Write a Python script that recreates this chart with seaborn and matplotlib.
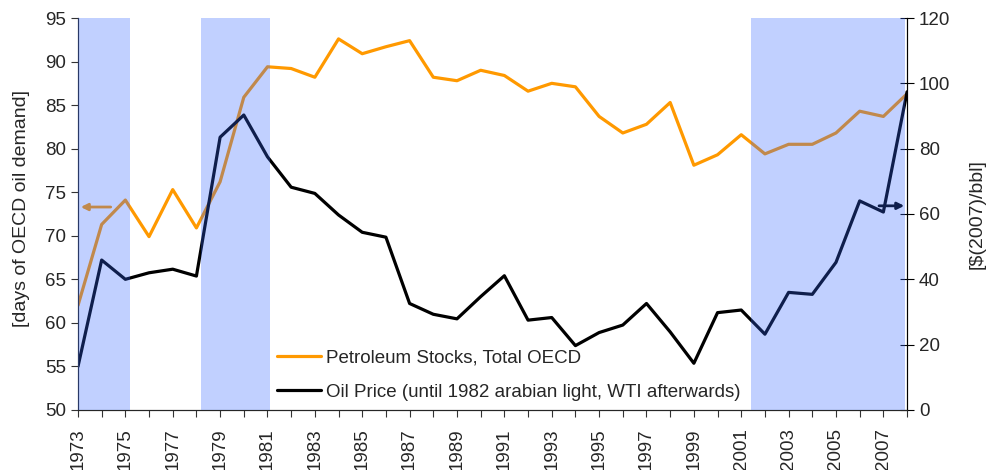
import numpy as np
import pandas as pd
import matplotlib
matplotlib.use("Agg")
import matplotlib.pyplot as plt
import seaborn as sns

# data
years = list(range(1973, 2009))
stocks_days = [62.0, 71.3, 74.1, 69.9, 75.3, 70.9, 76.2, 85.9, 89.4, 89.2,
               88.2, 92.6, 90.9, 91.7, 92.4, 88.2, 87.8, 89.0, 88.4, 86.6,
               87.5, 87.1, 83.7, 81.8, 82.8, 85.3, 78.1, 79.3, 81.6, 79.4,
               80.5, 80.5, 81.8, 84.3, 83.7, 86.3]
oil_price = [13.3, 45.9, 40.0, 42.0, 43.1, 41.0, 83.5, 90.3, 77.5, 68.2,
             66.3, 59.7, 54.4, 52.9, 32.6, 29.3, 27.9, 34.7, 41.1, 27.5,
             28.3, 19.7, 23.7, 26.0, 32.6, 23.9, 14.3, 29.8, 30.6, 23.2,
             36.0, 35.4, 45.2, 64.0, 60.6, 97.4]
shaded_periods = [(1973.0, 1975.2), (1978.2, 1981.1), (2001.4, 2007.9)]
stocks_label = "Petroleum Stocks, Total OECD"
price_label = "Oil Price (until 1982 arabian light, WTI afterwards)"

df = pd.DataFrame({"year": years, "stocks": stocks_days, "price": oil_price})

sns.set_style("ticks")
plt.rcParams["font.family"] = ["Liberation Sans", "DejaVu Sans"]

fig = plt.figure(figsize=(9.87, 4.70), dpi=100)
ax = fig.add_axes([0.079, 0.1277, 0.840, 0.834])
ax2 = ax.twinx()

sns.lineplot(data=df, x="year", y="stocks", ax=ax, color="#FF9900", lw=2.3, label=stocks_label, legend=False)
sns.lineplot(data=df, x="year", y="price", ax=ax2, color="black", lw=2.3, label=price_label, legend=False)

# arrows pointing to the axis each series belongs to
ax.annotate("", xy=(1973.0, 73.3), xytext=(1974.5, 73.3),
            arrowprops=dict(arrowstyle="-|>", color="#FF9900", lw=2, mutation_scale=10))
ax2.annotate("", xy=(2008.0, 62.5), xytext=(2006.7, 62.5),
             arrowprops=dict(arrowstyle="-|>", color="black", lw=2, mutation_scale=10))

# shaded periods on top of the lines
for a, b in shaded_periods:
    ax2.axvspan(a, b, color="#3366FF", alpha=0.3, lw=0, zorder=5)

ax.set_xlim(1973, 2008)
ax.set_ylim(50, 95)
ax2.set_ylim(0, 120)
ax.set_yticks(range(50, 96, 5))
ax2.set_yticks(range(0, 121, 20))
ax.set_xticks(years)
ax.set_xticklabels([str(y) if y % 2 == 1 else "" for y in years], rotation=90)

ax.tick_params(axis="both", labelsize=13.5, length=5, color="#333333")
ax.tick_params(axis="x", pad=8)
ax2.tick_params(axis="y", labelsize=13.5, length=10, direction="inout", color="black")

ax.set_xlabel("")
ax.set_ylabel("[days of OECD oil demand]", fontsize=14)
ax2.set_ylabel("[$(2007)/bbl]", fontsize=14, rotation=90)
ax.yaxis.set_label_coords(-0.058, 0.515)
ax2.yaxis.set_label_coords(1.074, 0.50)

for a in (ax, ax2):
    a.spines["top"].set_visible(False)
ax.spines["left"].set_color("#4060A0")
ax2.spines["right"].set_color("black")
ax.spines["bottom"].set_color("#333333")

h1, l1 = ax.get_legend_handles_labels()
h2, l2 = ax2.get_legend_handles_labels()
leg = ax2.legend(h1 + h2, l1 + l2, loc="lower left", bbox_to_anchor=(0.22, -0.02),
                 frameon=False, fontsize=13.5, handlelength=2.35, labelspacing=0.9,
                 handletextpad=0.27)
leg.set_zorder(10)

fig.savefig("out.png", dpi=100)
